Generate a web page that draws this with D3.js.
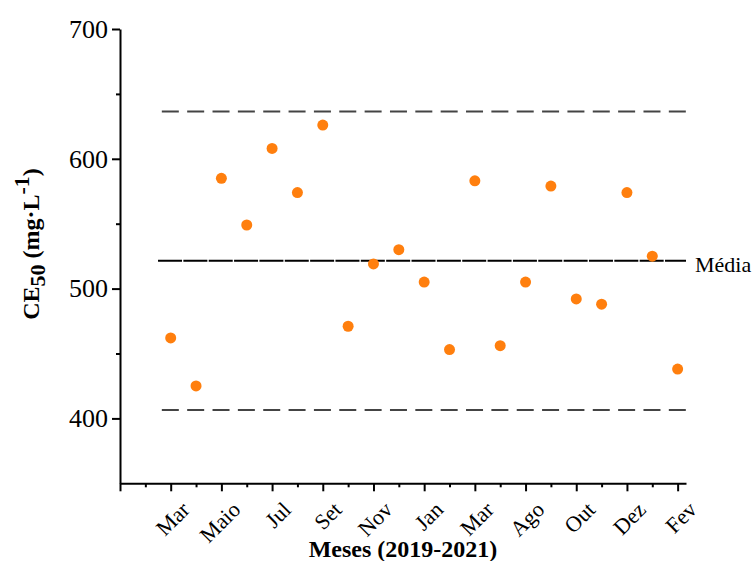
<!DOCTYPE html>
<html>
<head>
<meta charset="utf-8">
<script src="https://cdn.jsdelivr.net/npm/d3@7"></script>
<style>
  body { margin: 0; background: #fff; }
  svg { display: block; font-family: "Liberation Serif", "Times New Roman", serif; }
  .axis path, .axis line { stroke: #000; stroke-width: 2; }
  .axis text { fill: #000; font-family: "Liberation Serif", serif; }
</style>
</head>
<body>
<svg id="chart" width="755" height="561"></svg>
<script>
// month labels shown under every second sample (index 0, 2, ... 20)
const monthLabels = ['Mar', 'Maio', 'Jul', 'Set', 'Nov', 'Jan', 'Mar', 'Ago', 'Out', 'Dez', 'Fev'];
// CE50 values, one per sample
const ce50 = [462, 425, 585, 549, 608, 574, 626, 471, 519, 530, 505,
              453, 583, 456, 505, 579, 492, 488, 574, 525, 438];
const meanValue = 521.5;
const upperLimit = 636.5;
const lowerLimit = 406.5;
const yMajorTicks = [400, 500, 600, 700];
const yMinorTicks = [450, 550, 650];

const svg = d3.select('#chart');

const x = d3.scaleLinear().domain([-2, 20.33]).range([120, 686]);
const y = d3.scaleLinear().domain([350, 700]).range([483.3, 29]);

// reference lines (drawn first, below the points)
const refLines = [
  { v: upperLimit, from: -0.35, stroke: '#444', dash: '17 8.35' },
  { v: lowerLimit, from: -0.35, stroke: '#444', dash: '17 8.35' },
  { v: meanValue, from: -0.5, stroke: '#000', dash: '24 1.35' },
];
svg.selectAll('.ref-line')
  .data(refLines)
  .enter().append('line')
    .attr('class', 'ref-line')
    .attr('x1', d => x(d.from))
    .attr('x2', x(20.33))
    .attr('y1', d => y(d.v))
    .attr('y2', d => y(d.v))
    .style('stroke', d => d.stroke)
    .style('stroke-width', 2)
    .style('stroke-dasharray', d => d.dash);

svg.append('text')
  .attr('x', 695)
  .attr('y', y(meanValue) + 11)
  .style('font-size', '22px')
  .text('Média');

// y axis: major + minor ticks
svg.append('g')
  .attr('class', 'axis')
  .attr('transform', 'translate(120,0)')
  .call(d3.axisLeft(y).tickValues(yMinorTicks).tickSize(4).tickFormat(''))
  .call(g => g.select('.domain').remove());

svg.append('g')
  .attr('class', 'axis')
  .attr('transform', 'translate(120,0)')
  .call(d3.axisLeft(y).tickValues(yMajorTicks).tickSize(8).tickSizeOuter(0).tickPadding(4))
  .call(g => g.selectAll('text').style('font-size', '26px'));

// x axis: a tick at every sample, long ticks at labelled samples
const allIdx = d3.range(-2, 21);
svg.append('g')
  .attr('class', 'axis')
  .attr('transform', `translate(0,${y(350)})`)
  .call(d3.axisBottom(x).tickValues(allIdx.filter(i => i % 2 !== 0)).tickSize(4).tickFormat(''))
  .call(g => g.select('.domain').remove());

const xMajor = svg.append('g')
  .attr('class', 'axis')
  .attr('transform', `translate(0,${y(350)})`)
  .call(d3.axisBottom(x).tickValues(allIdx.filter(i => i % 2 === 0)).tickSize(8).tickSizeOuter(0)
    .tickFormat(i => (i >= 0 ? monthLabels[i / 2] : '')));

xMajor.selectAll('text')
  .style('font-size', '22px')
  .attr('text-anchor', 'end')
  .attr('dy', 0)
  .attr('transform', 'translate(12,20) rotate(-45)');

// the points
svg.selectAll('.pt')
  .data(ce50)
  .enter().append('circle')
    .attr('class', 'pt')
    .attr('cx', (d, i) => x(i))
    .attr('cy', d => y(d))
    .attr('r', 5.5)
    .style('fill', '#ff7f0e');

// axis titles
svg.append('text')
  .attr('x', 403)
  .attr('y', 557)
  .attr('text-anchor', 'middle')
  .style('font-size', '24px')
  .style('font-weight', 'bold')
  .text('Meses (2019-2021)');

const yTitle = svg.append('text')
  .attr('transform', 'translate(39,244) rotate(-90)')
  .attr('text-anchor', 'middle')
  .style('font-size', '24px')
  .style('font-weight', 'bold');
yTitle.append('tspan').text('CE');
yTitle.append('tspan').attr('dy', 6).style('font-size', '22px').text('50');
yTitle.append('tspan').attr('dy', -6).text(' (mg·L');
yTitle.append('tspan').attr('dy', -10).style('font-size', '22px').text('-1');
yTitle.append('tspan').attr('dy', 10).text(')');
</script>
</body>
</html>
